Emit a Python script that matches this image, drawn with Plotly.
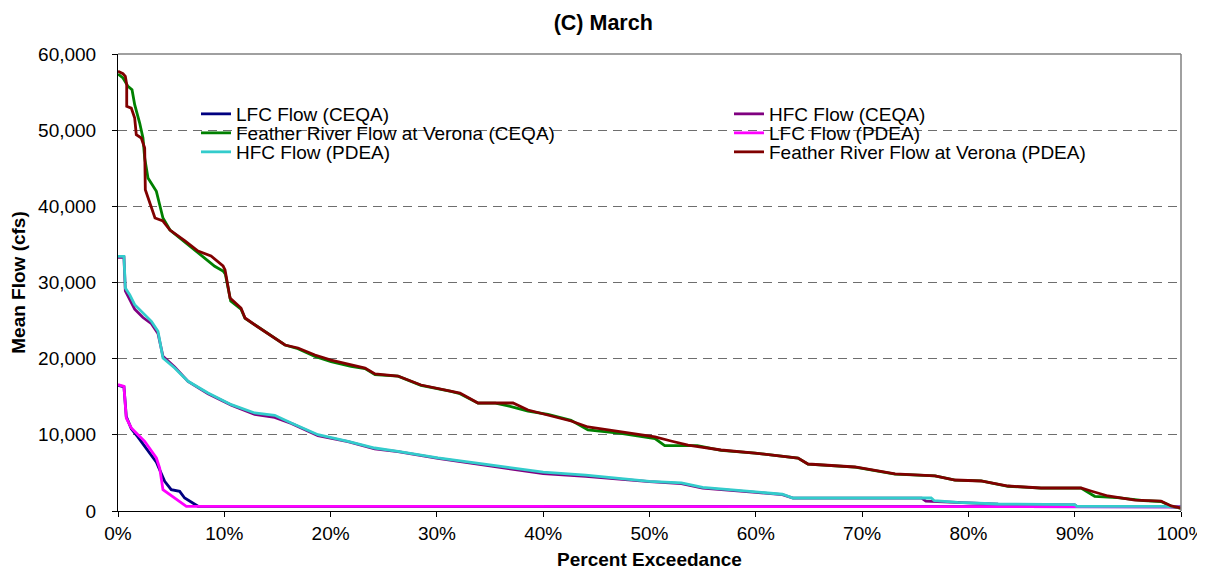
import plotly.graph_objects as go

# ---------------- data (percent exceedance, mean flow cfs) ----------------
fr_pdea_x = [0, 0.47, 0.69, 0.82, 0.82, 1.25, 1.57, 1.72, 2.19, 2.51, 2.57, 2.98, 3.48, 4.23, 4.89,
             6.30, 7.53, 8.75, 9.88, 10.07, 10.54, 11.57, 11.95, 12.89, 14.39, 15.71, 16.93, 18.53,
             20.04, 21.92, 23.24, 24.18, 26.34, 28.5, 31.33, 32.17, 33.87, 37.16, 38.57, 40.45,
             42.62, 44.21, 47.32, 50.52, 52.02, 53.62, 56.73, 59.92, 63.97, 64.91, 69.33, 73.1,
             76.86, 78.74, 81.19, 83.73, 86.83, 90.59, 91.53, 93.13, 95.67, 98.12, 99.06, 100]
fr_pdea_y = [57730, 57410, 57070, 55970, 53130, 52900, 51590, 49400, 48970, 47650, 42180, 40440,
             38470, 38070, 36890, 35450, 34130, 33480, 32170, 31640, 27960, 26650, 25340, 24420,
             22970, 21790, 21400, 20480, 19820, 19170, 18770, 17990, 17720, 16540, 15750, 15490,
             14180, 14180, 13260, 12600, 11820, 11030, 10370, 9720, 9190, 8660, 8010, 7610, 6960,
             6170, 5780, 4860, 4600, 4070, 3940, 3280, 3020, 3020, 2630, 1970, 1440, 1310, 660, 390]

fr_ceqa_x = [0, 0.47, 0.94, 1.32, 1.57, 2.04, 2.35, 2.51, 2.82, 3.61, 3.92, 4.23, 4.89, 6.30,
             7.53, 8.3, 9.1, 9.88, 10.1, 10.6, 11.57, 11.95, 12.89, 14.39, 15.71, 16.93, 18.53,
             20.04, 21.92, 23.24, 24.18, 26.34, 28.5, 31.33, 32.17, 33.87, 35.5, 36.7, 38.57,
             40.45, 42.62, 44.21, 47.32, 50.52, 51.43, 54.5, 56.73, 59.92, 63.97, 64.91, 69.33,
             73.1, 76.86, 78.74, 81.19, 83.73, 86.83, 90.59, 91.88, 94.0, 96.5, 98.12, 99.06, 100]
fr_ceqa_y = [57370, 56850, 55750, 55310, 53340, 50940, 48970, 46340, 43720, 41970, 40210, 38470,
             36890, 35300, 34000, 33100, 32130, 31510, 31100, 27570, 26500, 25300, 24400, 22950,
             21790, 21300, 20300, 19600, 19000, 18700, 17900, 17700, 16500, 15700, 15400, 14150,
             14150, 13800, 13100, 12700, 11900, 10650, 10200, 9500, 8580, 8580, 7950, 7600, 6950,
             6150, 5750, 4850, 4600, 4050, 3950, 3250, 3000, 3000, 1930, 1750, 1350, 1250, 650, 350]

hfc_pdea_x = [0, 0.56, 0.69, 1.10, 1.57, 2.35, 3.14, 3.76, 4.23, 5.33, 6.59, 8.47, 10.66, 12.86,
              14.74, 16.30, 18.81, 21.64, 24.15, 26.34, 27.28, 30.10, 34.81, 40.0, 44.0, 50.0,
              53.0, 55.0, 60.0, 62.5, 63.5, 64.9, 76.5, 76.8, 79.0, 82.8, 90.0, 90.2, 98.5, 100]
hfc_pdea_y = [33440, 33440, 29280, 28400, 27090, 25990, 24900, 23590, 20090, 18770, 17030, 15490,
              13960, 12870, 12560, 11550, 10020, 9150, 8270, 7840, 7610, 6960, 6080, 5100, 4700,
              3900, 3700, 3100, 2500, 2200, 1710, 1710, 1710, 1350, 1140, 920, 830, 620, 620, 490]

hfc_ceqa_x = [0, 0.56, 0.69, 1.10, 1.57, 2.35, 3.14, 3.76, 4.23, 5.33, 6.59, 8.47, 10.66, 12.86,
              14.74, 16.30, 18.81, 21.64, 24.15, 26.34, 27.28, 30.10, 34.81, 40.0, 44.0, 50.0,
              53.0, 55.0, 60.0, 62.5, 63.5, 64.9, 75.6, 76.0, 79.0, 82.8, 90.0, 90.2, 98.5, 100]
hfc_ceqa_y = [33300, 33300, 28900, 27740, 26500, 25400, 24600, 23300, 20300, 18900, 17000, 15400,
              13900, 12700, 12300, 11500, 9900, 9100, 8150, 7800, 7550, 6900, 5950, 4900, 4550,
              3850, 3600, 3000, 2450, 2150, 1700, 1700, 1700, 1300, 1100, 900, 800, 600, 600, 480]

lfc_pdea_x = [0, 0.56, 0.78, 1.25, 1.88, 2.51, 3.61, 3.92, 4.23, 5.33, 6.43, 100]
lfc_pdea_y = [16580, 16370, 12210, 10900, 10020, 9150, 6960, 5650, 2800, 1710, 620, 560]

lfc_ceqa_x = [0, 0.56, 0.78, 1.25, 1.88, 2.82, 3.61, 4.39, 5.01, 5.8, 6.27, 7.53, 100]
lfc_ceqa_y = [16500, 16300, 12400, 10800, 9700, 7840, 6400, 3900, 2800, 2580, 1710, 620, 560]

series = [
    ("LFC Flow (CEQA)", lfc_ceqa_x, lfc_ceqa_y, "#000080"),
    ("HFC Flow (CEQA)", hfc_ceqa_x, hfc_ceqa_y, "#800080"),
    ("Feather River Flow at Verona (CEQA)", fr_ceqa_x, fr_ceqa_y, "#008000"),
    ("LFC Flow (PDEA)", lfc_pdea_x, lfc_pdea_y, "#FF00FF"),
    ("HFC Flow (PDEA)", hfc_pdea_x, hfc_pdea_y, "#33CCCC"),
    ("Feather River Flow at Verona (PDEA)", fr_pdea_x, fr_pdea_y, "#800000"),
]

# legend placement (pixel positions of each entry)
L, R, T, B = 110, 1173, 46, 503
W, H = 1205, 571
leg_pos = {  # name: (left px, center y px)
    "LFC Flow (CEQA)": (188, 106),
    "Feather River Flow at Verona (CEQA)": (188, 125),
    "HFC Flow (PDEA)": (188, 144),
    "HFC Flow (CEQA)": (721, 106),
    "LFC Flow (PDEA)": (721, 125),
    "Feather River Flow at Verona (PDEA)": (721, 144),
}

FONT = "Arial, 'Liberation Sans', sans-serif"
fig = go.Figure()
legend_layouts = {}
for i, (name, xs, ys, col) in enumerate(series):
    lname = "legend" if i == 0 else f"legend{i + 1}"
    fig.add_trace(go.Scatter(x=xs, y=ys, mode="lines", name=name,
                             line=dict(color=col, width=2.8), legend=lname))
    px, py = leg_pos[name]
    legend_layouts[lname] = dict(
        x=(px - L) / (R - L), y=(B - py) / (B - T), xanchor="left", yanchor="middle",
        bgcolor="rgba(0,0,0,0)", borderwidth=0,
        font=dict(family=FONT, size=19, color="black"),
    )

fig.update_layout(**legend_layouts)

fig.update_layout(
    width=W, height=H,
    margin=dict(l=L, r=W - R, t=T, b=H - B, autoexpand=False),
    paper_bgcolor="white", plot_bgcolor="white",
    showlegend=True,
    title=dict(text="<b>(C) March</b>", x=0.494, xref="container", xanchor="center",
               y=1 - 14 / H, yref="container", yanchor="middle",
               font=dict(family=FONT, size=21.5, color="black")),
    font=dict(family=FONT, size=19, color="black"),
    xaxis=dict(range=[0, 100], dtick=10, tick0=0, ticksuffix="%",
               showgrid=False, zeroline=False,
               showline=True, linecolor="black", linewidth=1,
               ticks="outside", ticklen=5, tickcolor="black",
               tickfont=dict(family=FONT, size=19, color="black"),
               title=dict(text="<b>Percent Exceedance</b>", standoff=9,
                          font=dict(family=FONT, size=19, color="black"))),
    yaxis=dict(range=[0, 60000], dtick=10000, tickformat=",d",
               showgrid=True, gridcolor="#6e6e6e", gridwidth=1, griddash="9px,6px",
               zeroline=False,
               showline=True, linecolor="black", linewidth=1,
               ticks="outside", ticklen=5, tickcolor="black", ticklabelstandoff=12,
               tickfont=dict(family=FONT, size=19, color="black"),
               title=dict(text="<b>Mean Flow (cfs)</b>", standoff=8,
                          font=dict(family=FONT, size=19, color="black"))),
    shapes=[
        dict(type="line", xref="paper", yref="paper", x0=0, x1=1, y0=1, y1=1,
             line=dict(color="#808080", width=1.5)),
        dict(type="line", xref="paper", yref="paper", x0=1, x1=1, y0=0, y1=1,
             line=dict(color="#808080", width=1.5)),
    ],
)

fig.write_html("out.html")
